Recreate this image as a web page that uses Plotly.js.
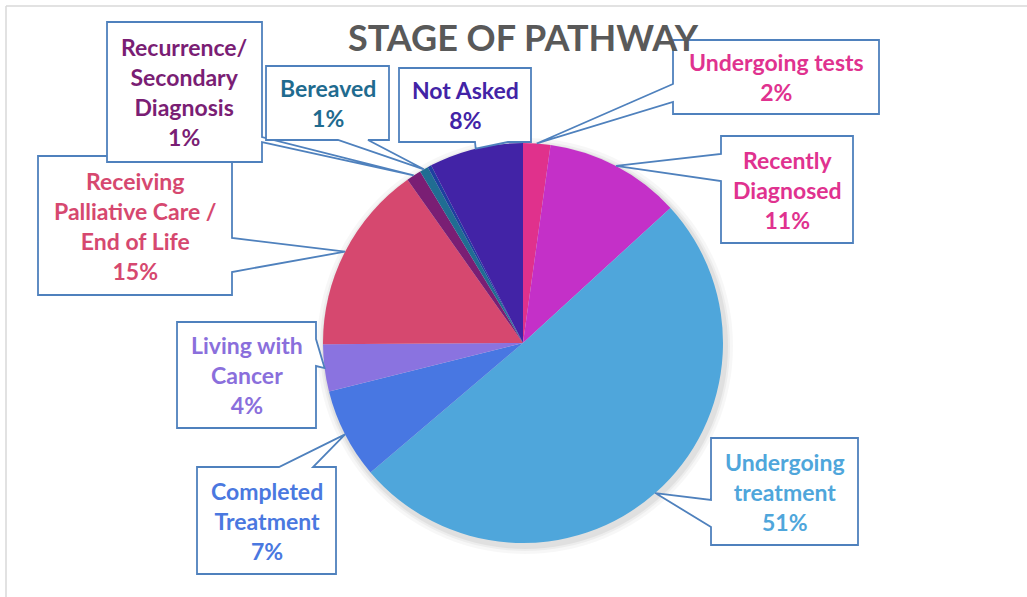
<!DOCTYPE html>
<html>
<head>
<meta charset="utf-8">
<script src="https://cdn.plot.ly/plotly-3.0.1.min.js"></script>
<style>html,body{margin:0;padding:0;background:#fff;}#chart{width:1027px;height:597px;}</style>
</head>
<body>
<div id="chart"></div>
<script>
// ---- data ----
var categories = ["Undergoing tests", "Recently Diagnosed", "Undergoing treatment", "Completed Treatment",
  "Living with Cancer", "Receiving Palliative Care / End of Life", "Recurrence/ Secondary Diagnosis",
  "Bereaved", "Other", "Not Asked"];
var values = [2.2, 11.0, 50.6, 7.3, 3.8, 15.3, 1.2, 0.7, 0.3, 7.6];
var calloutText = ["Undergoing tests", "Recently<br>Diagnosed", "Undergoing<br>treatment", "Completed<br>Treatment",
  "Living with<br>Cancer", "Receiving<br>Palliative Care /<br>End of Life", "Recurrence/<br>Secondary<br>Diagnosis",
  "Bereaved", null, "Not Asked"];
var sliceColors = ["#e0318c", "#c430c8", "#4fa6db", "#4877e2", "#8a73e0", "#d6486f", "#7a1e74", "#206d92", "#1f3fa0", "#4223a6"];
var textColors = ["#e0328f", "#e0328f", "#4fa6db", "#4a78e0", "#8a6fdc", "#d6486f", "#7a1e74", "#1f6b8f", null, "#4223a6"];

// ---- layout constants (pixels) ----
var W = 1027, H = 597;
var CX = 523, CY = 343, R = 200;
// callout boxes: [x0, x1, y0, y1], side, base positions along the side
var boxes = [
  {r: [673, 879, 40, 114], side: "left", a: 84, b: 102},
  {r: [721, 853, 136, 243], side: "left", a: 154, b: 181},
  {r: [711, 858, 438, 545], side: "left", a: 500, b: 527},
  {r: [197, 336, 467, 574], side: "top", a: 279, b: 313},
  {r: [177, 316, 322, 428], side: "right", a: 339, b: 366},
  {r: [38, 232, 156, 295], side: "right", a: 238, b: 272},
  {r: [107, 262, 22, 162], side: "right", a: 137, b: 142},
  {r: [266, 389, 66, 140], side: "bottom", a: 338, b: 368},
  null,
  {r: [399, 531, 68, 142], side: "bottom", a: 475, b: 508}
];

function px(x) { return x / W; }
function py(y) { return 1 - y / H; }

var total = values.reduce(function (s, v) { return s + v; }, 0);
var shapes = [], annotations = [];

// soft shadow behind the pie
[[208, 0.03], [205, 0.04], [203, 0.05]].forEach(function (s) {
  shapes.push({type: "circle", xref: "paper", yref: "paper", layer: "below",
    x0: px(CX + 2 - s[0]), x1: px(CX + 2 + s[0]), y0: py(CY + 3 + s[0]), y1: py(CY + 3 - s[0]),
    fillcolor: "rgba(0,0,0," + s[1] + ")", line: {width: 0}});
});

var cum = 0;
for (var i = 0; i < values.length; i++) {
  var mid = (cum + values[i] / 2) / total;
  cum += values[i];
  var bx = boxes[i];
  if (!bx) continue;
  var th = 2 * Math.PI * mid;
  var tx = CX + R * Math.sin(th), ty = CY - R * Math.cos(th);
  var x0 = bx.r[0], x1 = bx.r[1], y0 = bx.r[2], y1 = bx.r[3];
  var pts;
  if (bx.side === "left") pts = [[x0, y0], [x1, y0], [x1, y1], [x0, y1], [x0, bx.b], [tx, ty], [x0, bx.a]];
  else if (bx.side === "right") pts = [[x0, y0], [x1, y0], [x1, bx.a], [tx, ty], [x1, bx.b], [x1, y1], [x0, y1]];
  else if (bx.side === "bottom") pts = [[x0, y0], [x1, y0], [x1, y1], [bx.b, y1], [tx, ty], [bx.a, y1], [x0, y1]];
  else pts = [[x0, y0], [bx.a, y0], [tx, ty], [bx.b, y0], [x1, y0], [x1, y1], [x0, y1]];
  var path = pts.map(function (p, k) { return (k ? "L" : "M") + px(p[0]).toFixed(5) + "," + py(p[1]).toFixed(5); }).join(" ") + " Z";
  shapes.push({type: "path", xref: "paper", yref: "paper", layer: "above", path: path,
    fillcolor: "#ffffff", line: {color: "#4f81bd", width: 1.8}});
  var pct = Math.round(values[i] / total * 100) + "%";
  annotations.push({xref: "paper", yref: "paper", x: px((x0 + x1) / 2), y: py((y0 + y1) / 2),
    xanchor: "center", yanchor: "middle", showarrow: false, align: "center",
    text: calloutText[i] + "<br>" + pct,
    font: {family: "Lato, 'Open Sans', sans-serif", size: 23, color: textColors[i], weight: "bold"}});
}

// chart frame (light grey top and left border lines)
shapes.push({type: "line", xref: "paper", yref: "paper", x0: px(6), x1: px(1027), y0: py(6), y1: py(6), line: {color: "#d9d9d9", width: 1.5}});
shapes.push({type: "line", xref: "paper", yref: "paper", x0: px(6), x1: px(6), y0: py(6), y1: py(597), line: {color: "#d9d9d9", width: 1.5}});

var trace = {
  type: "pie",
  labels: categories,
  values: values,
  sort: false,
  direction: "clockwise",
  rotation: 0,
  textinfo: "none",
  hoverinfo: "none",
  showlegend: false,
  marker: {colors: sliceColors, line: {width: 0}},
  domain: {x: [px(CX - R), px(CX + R)], y: [py(CY + R), py(CY - R)]}
};

var layout = {
  width: W, height: H,
  margin: {l: 0, r: 0, t: 0, b: 0},
  paper_bgcolor: "#ffffff",
  title: {text: "STAGE OF PATHWAY", x: px(523), y: py(38), xref: "paper", yref: "paper",
    xanchor: "center", yanchor: "middle",
    font: {family: "Lato, 'Open Sans', sans-serif", size: 36, color: "#595959", weight: "bold"}},
  shapes: shapes,
  annotations: annotations
};

Plotly.newPlot("chart", [trace], layout, {staticPlot: true, displayModeBar: false});
</script>
</body>
</html>
